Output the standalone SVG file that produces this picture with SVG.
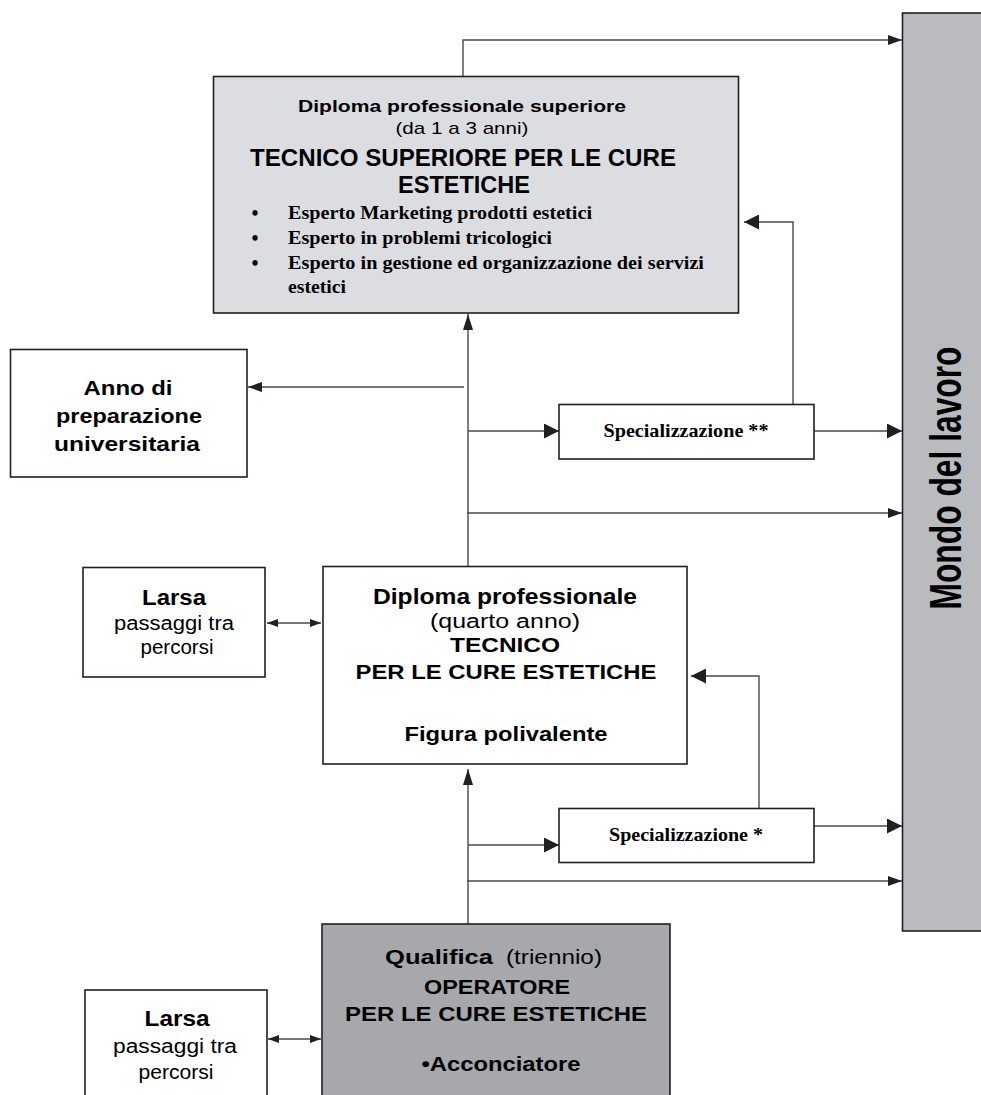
<svg xmlns="http://www.w3.org/2000/svg" width="981" height="1095" viewBox="0 0 981 1095">
  <defs>
    <style>
      .box { stroke: #231f20; stroke-width: 1.6; }
      .white { fill: #ffffff; }
      .light { fill: #dcdde0; }
      .mid { fill: #babbbf; }
      .dark { fill: #a7a8ab; }
      .conn { fill: none; stroke: #4a4a4a; stroke-width: 1.4; }
      .sans { font-family: "Liberation Sans", Arial, sans-serif; fill: #000; }
      .serif { font-family: "Liberation Serif", "Times New Roman", serif; fill: #000; font-weight: bold; }
      .b { font-weight: bold; }
      .c { text-anchor: middle; }
    </style>
    <marker id="big" viewBox="0 0 15 15" markerWidth="15" markerHeight="15" refX="15" refY="7.5" orient="auto" markerUnits="userSpaceOnUse">
      <path d="M0,0 L15,7.5 L0,15 Z" fill="#231f20"/>
    </marker>
    <marker id="small" viewBox="0 0 14 10" markerWidth="14" markerHeight="10" refX="14" refY="5" orient="auto" markerUnits="userSpaceOnUse">
      <path d="M0,0 L14,5 L0,10 Z" fill="#231f20"/>
    </marker>
    <marker id="tall" viewBox="0 0 16 10" markerWidth="16" markerHeight="10" refX="16" refY="5" orient="auto" markerUnits="userSpaceOnUse">
      <path d="M0,0 L16,5 L0,10 Z" fill="#231f20"/>
    </marker>
    <marker id="tiny" viewBox="0 0 11 8" markerWidth="11" markerHeight="8" refX="11" refY="4" orient="auto-start-reverse" markerUnits="userSpaceOnUse">
      <path d="M0,0 L11,4 L0,8 Z" fill="#231f20"/>
    </marker>
  </defs>

  <rect width="981" height="1095" fill="#ffffff"/>

  <!-- connectors -->
  <g id="connectors">
    <polyline class="conn" points="463,76 463,40 902,40" marker-end="url(#small)"/>
    <polyline class="conn" points="793,404 793,222 744,222" marker-end="url(#big)"/>
    <line class="conn" x1="464" y1="387" x2="248" y2="387" marker-end="url(#small)"/>
    <line class="conn" x1="468" y1="566" x2="468" y2="314" marker-end="url(#tall)"/>
    <line class="conn" x1="468" y1="431" x2="559" y2="431" marker-end="url(#big)"/>
    <line class="conn" x1="814" y1="431" x2="902" y2="431" marker-end="url(#big)"/>
    <line class="conn" x1="467" y1="513" x2="902" y2="513" marker-end="url(#small)"/>
    <line class="conn" x1="267" y1="623" x2="321" y2="623" marker-start="url(#tiny)" marker-end="url(#tiny)"/>
    <polyline class="conn" points="759,808 759,676 691,676" marker-end="url(#big)"/>
    <line class="conn" x1="468" y1="924" x2="468" y2="769" marker-end="url(#tall)"/>
    <line class="conn" x1="468" y1="845" x2="559" y2="845" marker-end="url(#big)"/>
    <line class="conn" x1="814" y1="826" x2="902" y2="826" marker-end="url(#big)"/>
    <line class="conn" x1="467" y1="881" x2="902" y2="881" marker-end="url(#small)"/>
    <line class="conn" x1="268" y1="1039" x2="321" y2="1039" marker-start="url(#tiny)" marker-end="url(#tiny)"/>
  </g>

  <!-- Mondo del lavoro -->
  <g id="mondo-lavoro">
    <rect class="box mid" x="902.5" y="13" width="85" height="918"/>
    <text class="sans b c" font-size="44" textLength="263" lengthAdjust="spacingAndGlyphs" transform="translate(961,478) rotate(-90)">Mondo del lavoro</text>
  </g>

  <!-- Diploma professionale superiore -->
  <g id="diploma-superiore">
    <rect class="box light" x="213.5" y="76.5" width="525" height="236.5"/>
    <text class="sans b c" x="462" y="112" font-size="17" textLength="328" lengthAdjust="spacingAndGlyphs">Diploma professionale superiore</text>
    <text class="sans c" x="462" y="134" font-size="17" textLength="133" lengthAdjust="spacingAndGlyphs">(da 1 a 3 anni)</text>
    <text class="sans b c" x="463" y="166" font-size="24" textLength="426" lengthAdjust="spacingAndGlyphs">TECNICO SUPERIORE PER LE CURE</text>
    <text class="sans b c" x="464" y="193" font-size="24" textLength="132" lengthAdjust="spacingAndGlyphs">ESTETICHE</text>
    <text class="serif c" x="255" y="220" font-size="20">•</text>
    <text class="serif c" x="255" y="245" font-size="20">•</text>
    <text class="serif c" x="255" y="270" font-size="20">•</text>
    <text class="serif" x="288" y="219" font-size="18" textLength="304" lengthAdjust="spacingAndGlyphs">Esperto Marketing prodotti estetici</text>
    <text class="serif" x="288" y="244" font-size="18" textLength="264" lengthAdjust="spacingAndGlyphs">Esperto in problemi tricologici</text>
    <text class="serif" x="288" y="269" font-size="18" textLength="416" lengthAdjust="spacingAndGlyphs">Esperto in gestione ed organizzazione dei servizi</text>
    <text class="serif" x="288" y="293" font-size="18" textLength="58" lengthAdjust="spacingAndGlyphs">estetici</text>
  </g>

  <!-- Anno di preparazione universitaria -->
  <g id="anno-preparazione">
    <rect class="box white" x="10.5" y="349.5" width="236.5" height="127.5"/>
    <text class="sans b c" x="128" y="395" font-size="21" textLength="89" lengthAdjust="spacingAndGlyphs">Anno di</text>
    <text class="sans b c" x="129" y="423" font-size="21" textLength="146" lengthAdjust="spacingAndGlyphs">preparazione</text>
    <text class="sans b c" x="127" y="451" font-size="21" textLength="146" lengthAdjust="spacingAndGlyphs">universitaria</text>
  </g>

  <!-- Specializzazione ** -->
  <g id="specializzazione-2">
    <rect class="box white" x="559" y="404.5" width="255" height="54.5"/>
    <text class="serif c" x="686" y="437" font-size="19" textLength="165" lengthAdjust="spacingAndGlyphs">Specializzazione **</text>
  </g>

  <!-- Larsa (upper) -->
  <g id="larsa-1">
    <rect class="box white" x="83" y="567.5" width="182" height="109.5"/>
    <text class="sans b c" x="174" y="605" font-size="22" textLength="64" lengthAdjust="spacingAndGlyphs">Larsa</text>
    <text class="sans c" x="174" y="630" font-size="20" textLength="120" lengthAdjust="spacingAndGlyphs">passaggi tra</text>
    <text class="sans c" x="177" y="654" font-size="20" textLength="73" lengthAdjust="spacingAndGlyphs">percorsi</text>
  </g>

  <!-- Diploma professionale -->
  <g id="diploma-professionale">
    <rect class="box white" x="323" y="566.5" width="364" height="197.5"/>
    <text class="sans b c" x="505" y="604" font-size="22" textLength="264" lengthAdjust="spacingAndGlyphs">Diploma professionale</text>
    <text class="sans c" x="505" y="628" font-size="20" textLength="150" lengthAdjust="spacingAndGlyphs">(quarto anno)</text>
    <text class="sans b c" x="505" y="652" font-size="20" textLength="110" lengthAdjust="spacingAndGlyphs">TECNICO</text>
    <text class="sans b c" x="506" y="679" font-size="20" textLength="301" lengthAdjust="spacingAndGlyphs">PER LE CURE ESTETICHE</text>
    <text class="sans b c" x="506" y="741" font-size="20" textLength="203" lengthAdjust="spacingAndGlyphs">Figura polivalente</text>
  </g>

  <!-- Specializzazione * -->
  <g id="specializzazione-1">
    <rect class="box white" x="559" y="808.5" width="255" height="54"/>
    <text class="serif c" x="686" y="841" font-size="19" textLength="154" lengthAdjust="spacingAndGlyphs">Specializzazione *</text>
  </g>

  <!-- Qualifica -->
  <g id="qualifica">
    <rect class="box dark" x="322" y="924" width="348" height="180"/>
    <text class="sans" y="964" font-size="20"><tspan class="b" x="385" textLength="108" lengthAdjust="spacingAndGlyphs">Qualifica</tspan><tspan x="506" textLength="96" lengthAdjust="spacingAndGlyphs">(triennio)</tspan></text>
    <text class="sans b c" x="497" y="994" font-size="20" textLength="146" lengthAdjust="spacingAndGlyphs">OPERATORE</text>
    <text class="sans b c" x="496" y="1021" font-size="20" textLength="302" lengthAdjust="spacingAndGlyphs">PER LE CURE ESTETICHE</text>
    <text class="sans b c" x="501" y="1071" font-size="20" textLength="159" lengthAdjust="spacingAndGlyphs">•Acconciatore</text>
  </g>

  <!-- Larsa (lower) -->
  <g id="larsa-2">
    <rect class="box white" x="85" y="990" width="182" height="115"/>
    <text class="sans b c" x="177" y="1026" font-size="22" textLength="65" lengthAdjust="spacingAndGlyphs">Larsa</text>
    <text class="sans c" x="175" y="1053" font-size="20" textLength="124" lengthAdjust="spacingAndGlyphs">passaggi tra</text>
    <text class="sans c" x="176" y="1079" font-size="20" textLength="75" lengthAdjust="spacingAndGlyphs">percorsi</text>
  </g>
</svg>
